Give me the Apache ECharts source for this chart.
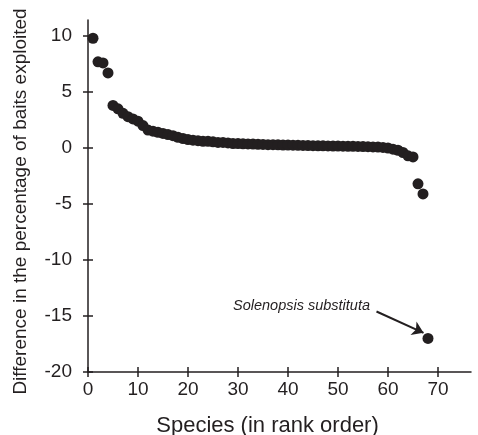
<!DOCTYPE html>
<html>
<head>
<meta charset="utf-8">
<script src="https://cdn.jsdelivr.net/npm/echarts@6/dist/echarts.min.js"></script>
<style>
  html, body { margin: 0; padding: 0; background: #fff; }
  #chart { width: 478px; height: 435px; }
</style>
</head>
<body>
<div id="chart"></div>
<script>
// difference in % of baits exploited, species in rank order (rank = index + 1)
const values = [
  9.8, 7.7, 7.6, 6.7, 3.8, 3.5, 3.1, 2.8, 2.6, 2.4,
  2.0, 1.6, 1.5, 1.4, 1.3, 1.2, 1.1, 0.95, 0.85, 0.75,
  0.7, 0.65, 0.6, 0.6, 0.55, 0.5, 0.5, 0.45, 0.4, 0.4,
  0.38, 0.36, 0.35, 0.33, 0.32, 0.3, 0.3, 0.28, 0.27, 0.26,
  0.25, 0.24, 0.23, 0.22, 0.21, 0.2, 0.2, 0.19, 0.18, 0.17,
  0.16, 0.15, 0.15, 0.14, 0.13, 0.12, 0.1, 0.08, 0.05, 0.0,
  -0.1, -0.2, -0.4, -0.7, -0.8, -3.2, -4.1, -17.0
];
const xTicks = [0, 10, 20, 30, 40, 50, 60, 70];
const yTicks = [-20, -15, -10, -5, 0, 5, 10];
const noteText = 'Solenopsis substituta';
const notePos = [42.7, -14.1];
const arrowFrom = [57.7, -14.6];
const arrowTo = [67.1, -16.5];

const ink = '#231f20';
const font = 'Liberation Sans, Arial, sans-serif';

const chart = echarts.init(document.getElementById('chart'));

const points = values.map((v, i) => [i + 1, v]);

const xBase = {
  type: 'value', min: 0, max: 76.6, gridIndex: 0, position: 'bottom',
  splitLine: { show: false }
};
const yBase = {
  type: 'value', min: -20, max: 11.43, gridIndex: 0, position: 'left',
  splitLine: { show: false }
};
const tickLine = { color: ink, width: 1.5 };

chart.setOption({
  animation: false,
  grid: { left: 88, right: 7, top: 20, bottom: 63, outerBoundsMode: 'none' },
  xAxis: [
    Object.assign({}, xBase, {
      name: 'Species (in rank order)',
      nameLocation: 'middle',
      nameGap: 43,
      nameTextStyle: { color: ink, fontSize: 22, fontFamily: font, padding: [0, 24, 0, 0] },
      axisLine: { onZero: false, lineStyle: { color: ink, width: 1.5 } },
      axisTick: { length: 5, lineStyle: tickLine, customValues: xTicks },
      axisLabel: { color: ink, fontSize: 19, fontFamily: font, margin: 8, customValues: xTicks }
    }),
    // inner half of the crossing ticks
    Object.assign({}, xBase, {
      axisLine: { show: false, onZero: false },
      axisTick: { inside: true, length: 5, lineStyle: tickLine, customValues: xTicks },
      axisLabel: { show: false }
    })
  ],
  yAxis: [
    Object.assign({}, yBase, {
      name: 'Difference in the percentage of baits exploited',
      nameLocation: 'middle',
      nameGap: 58,
      nameTextStyle: { color: ink, fontSize: 19, fontFamily: font, padding: [0, 11, 0, 0] },
      axisLine: { onZero: false, lineStyle: { color: ink, width: 1.5 } },
      axisTick: { length: 5, lineStyle: tickLine, customValues: yTicks },
      axisLabel: { color: ink, fontSize: 19, fontFamily: font, margin: 16, customValues: yTicks }
    }),
    Object.assign({}, yBase, {
      axisLine: { show: false, onZero: false },
      axisTick: { inside: true, length: 5, lineStyle: tickLine, customValues: yTicks },
      axisLabel: { show: false }
    })
  ],
  series: [
    {
      type: 'scatter',
      data: points,
      symbol: 'circle',
      symbolSize: 11,
      itemStyle: { color: ink, opacity: 1 },
      markLine: {
        silent: true,
        symbol: ['none', 'arrow'],
        symbolSize: 11,
        lineStyle: { color: ink, width: 2, type: 'solid', opacity: 1 },
        label: { show: false },
        data: [[{ coord: arrowFrom }, { coord: arrowTo }]]
      },
      markPoint: {
        silent: true,
        symbolSize: 0,
        label: {
          show: true,
          formatter: noteText,
          color: ink,
          fontSize: 14.5,
          fontStyle: 'italic',
          fontFamily: font
        },
        data: [{ coord: notePos }]
      }
    }
  ]
});
</script>
</body>
</html>
